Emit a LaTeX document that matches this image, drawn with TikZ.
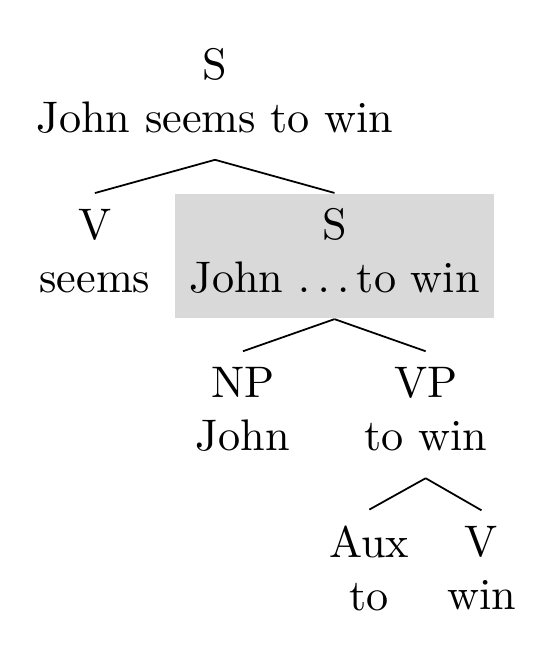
\documentclass[tikz,border=0pt]{standalone}
\usepackage{tikz}
\usepackage{amsmath,amssymb}
\tikzset{
	treenode/.style={align=center, inner xsep=3.9pt, inner ysep=3.5pt, execute at end node={\rule[-2.5pt]{0pt}{0pt}}}
}
\tikzset{
	shadednode/.style={treenode, inner xsep=3.2pt, inner ysep=3.3pt, fill=black!15}
}

\begin{document}
\begin{tikzpicture}
			\useasboundingbox (0,0) rectangle (4.342,-5.153);
			\node[treenode] (root) at (1.710,-0.762) {S\\John seems to win};
			\node[treenode] (vseems) at (0.755,-2.040) {V\\seems};
			\node[shadednode] (sinner) at (2.660,-2.036) {S\\John $\ldots$\,to win};
			\node[treenode] (np) at (1.932,-3.298) {NP\\John};
			\node[treenode] (vp) at (3.385,-3.298) {VP\\to win};
			\node[treenode] (aux) at (2.937,-4.563) {Aux\\to};
			\node[treenode] (vwin) at (3.829,-4.563) {V\\win};
			\draw (root.south)-- (vseems.north);
			\draw (root.south)-- (sinner.north);
			\draw (sinner.south)-- (np.north);
			\draw (sinner.south)-- (vp.north);
			\draw (vp.south)-- (aux.north);
			\draw (vp.south)-- (vwin.north);
		\end{tikzpicture}
\end{document}
